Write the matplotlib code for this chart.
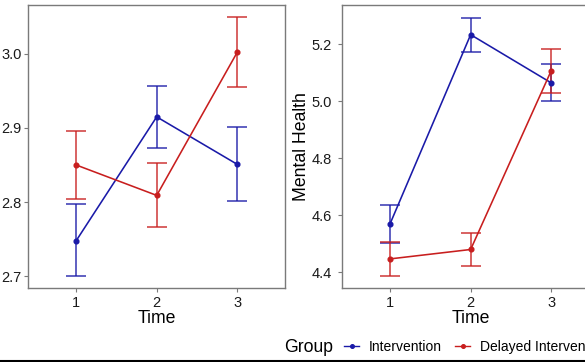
import matplotlib
matplotlib.use("Agg")
import matplotlib.pyplot as plt
from matplotlib.lines import Line2D
import numpy as np

plt.rcParams['font.family'] = ['Liberation Sans', 'DejaVu Sans']

time = [1, 2, 3]
groups = ["Intervention", "Delayed Intervention"]
colors = {"Intervention": "#1a1aa8", "Delayed Intervention": "#c81e1e"}

# Left panel (y label cut off in reference)
left_mean = {"Intervention": [2.748, 2.915, 2.851],
             "Delayed Intervention": [2.850, 2.809, 3.002]}
left_low = {"Intervention": [2.700, 2.873, 2.801],
            "Delayed Intervention": [2.804, 2.766, 2.955]}
left_high = {"Intervention": [2.797, 2.957, 2.901],
             "Delayed Intervention": [2.896, 2.853, 3.050]}
left_ticks = [2.7, 2.8, 2.9, 3.0]

# Right panel: Mental Health
right_mean = {"Intervention": [4.570, 5.233, 5.064],
              "Delayed Intervention": [4.447, 4.480, 5.107]}
right_low = {"Intervention": [4.503, 5.173, 4.999],
             "Delayed Intervention": [4.387, 4.423, 5.029]}
right_high = {"Intervention": [4.635, 5.292, 5.130],
              "Delayed Intervention": [4.505, 4.537, 5.184]}
right_ticks = [4.4, 4.6, 4.8, 5.0, 5.2]

W, H = 585, 362
fig = plt.figure(figsize=(W / 100, H / 100), dpi=100)

def fx(px):
    return px / W

def fy(py):
    return 1 - py / H

axL = fig.add_axes([fx(28), fy(288), fx(285.4 - 28), fy(5) - fy(288)])
axR = fig.add_axes([fx(341.7), fy(288), fx(599.6 - 341.7), fy(5) - fy(288)])

def draw(ax, mean, low, high, ylim, ticks, pad):
    for g in groups:
        c = colors[g]
        m = np.array(mean[g]); lo = np.array(low[g]); hi = np.array(high[g])
        ax.errorbar(time, m, yerr=[m - lo, hi - m], fmt='none', ecolor=c,
                    elinewidth=1.15, capsize=7.3, capthick=1.15, alpha=0.85, zorder=2)
        ax.plot(time, m, color=c, lw=1.15, marker='o', ms=3.4, zorder=3)
    ax.set_xlim(0.4, 3.6)
    ax.set_ylim(*ylim)
    ax.set_xticks(time)
    ax.set_xticklabels([str(t) for t in time])
    ax.set_yticks(ticks)
    ax.set_yticklabels([f"{t:.1f}" for t in ticks])
    for s in ax.spines.values():
        s.set_color('#7a7a7a')
        s.set_linewidth(1.0)
    ax.tick_params(axis='both', colors='#7a7a7a', length=3, width=0.8,
                   labelsize=10.5, labelcolor='#1a1a1a')
    ax.tick_params(axis='y', pad=pad)
    ax.tick_params(axis='x', pad=3)
    ax.set_xlabel("Time", fontsize=12.7, labelpad=0, color='black')

draw(axL, left_mean, left_low, left_high, (2.684, 3.066), left_ticks, 1.5)
draw(axR, right_mean, right_low, right_high, (4.345, 5.337), right_ticks, 4)
axR.set_ylabel("Mental Health", fontsize=12.7, labelpad=1.0, color='black')

# Legend
fig.text(fx(284), fy(347), "Group", fontsize=12.7, ha='left', va='center')
handles = [Line2D([], [], color=colors[g], lw=1.0, marker='o', ms=2.6) for g in groups]
fig.legend(handles, groups, ncol=2, loc='center left',
           bbox_to_anchor=(fx(344), fy(347)), frameon=False, fontsize=10,
           handlelength=1.08, handletextpad=0.72, columnspacing=0.96,
           borderpad=0, borderaxespad=0)

fig.add_artist(Line2D([0, 1], [fy(360.8), fy(360.8)], transform=fig.transFigure,
                      color='black', lw=1.5))

fig.savefig("out.png", dpi=100)
